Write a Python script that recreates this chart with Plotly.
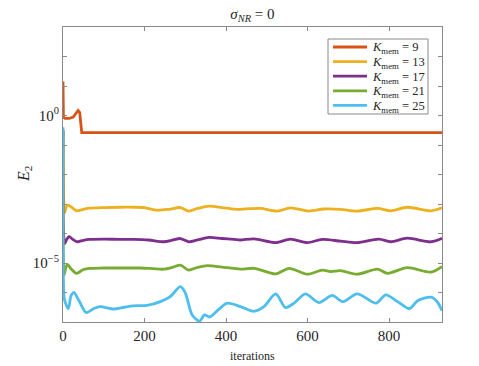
import plotly.graph_objects as go
import numpy as np

# Series data (values are log10 of E_2)
iters_k9 = [0, 1, 5, 15, 25, 32, 37, 41, 44, 46, 930]
log_e2_k9 = [1.15, -0.05, -0.1, -0.1, -0.05, 0.08, 0.17, 0.1, -0.3, -0.58, -0.58]

iters_k13 = [0, 4, 8, 13, 22, 34, 50, 66, 100, 140, 173, 200, 230, 260, 288, 308, 330, 358,
             390, 420, 435, 460, 485, 526, 558, 603, 640, 681, 722, 772, 804, 845, 903, 930]
log_e2_k13 = [-0.5, -3.3, -3.1, -3.04, -3.12, -3.23, -3.18, -3.14, -3.12, -3.11, -3.11, -3.12,
              -3.21, -3.18, -3.12, -3.24, -3.15, -3.07, -3.12, -3.17, -3.18, -3.16, -3.15, -3.24,
              -3.13, -3.24, -3.17, -3.18, -3.24, -3.15, -3.23, -3.11, -3.23, -3.13]

iters_k17 = [0, 4, 9, 15, 24, 35, 50, 66, 100, 140, 173, 210, 247, 270, 288, 308, 330, 358,
             390, 420, 435, 469, 522, 558, 599, 636, 681, 722, 775, 804, 845, 903, 930]
log_e2_k17 = [-0.5, -4.35, -4.2, -4.11, -4.2, -4.28, -4.23, -4.2, -4.19, -4.2, -4.2, -4.22,
              -4.28, -4.22, -4.17, -4.28, -4.22, -4.13, -4.17, -4.2, -4.22, -4.18, -4.31, -4.19,
              -4.31, -4.2, -4.26, -4.31, -4.19, -4.28, -4.16, -4.28, -4.16]

iters_k21 = [0, 3, 7, 11, 20, 33, 50, 66, 100, 140, 190, 220, 247, 270, 288, 308, 330, 354,
             390, 420, 435, 469, 522, 555, 599, 636, 657, 681, 722, 772, 796, 845, 903, 930]
log_e2_k21 = [-0.55, -5.4, -5.15, -5.05, -5.2, -5.35, -5.22, -5.18, -5.17, -5.17, -5.17, -5.19,
              -5.21, -5.14, -5.07, -5.24, -5.15, -5.09, -5.14, -5.18, -5.21, -5.18, -5.37, -5.18,
              -5.38, -5.24, -5.29, -5.26, -5.38, -5.21, -5.35, -5.16, -5.31, -5.12]

iters_k25 = [0, 3, 6, 13, 20, 27, 40, 57, 75, 91, 124, 150, 173, 206, 239, 263, 288, 300, 317,
             335, 347, 360, 380, 403, 436, 468, 493, 522, 546, 567, 595, 628, 661, 686, 722, 768,
             792, 821, 850, 870, 903, 919, 930]
log_e2_k25 = [-0.4, -6.2, -6.35, -6.55, -6.1, -6.0, -6.3, -6.68, -6.55, -6.48, -6.56, -6.5, -6.45,
              -6.44, -6.31, -6.14, -5.8, -6.01, -6.76, -6.97, -6.76, -6.83, -6.6, -6.36, -6.48,
              -6.64, -6.48, -6.05, -6.51, -6.36, -6.05, -6.34, -6.1, -6.31, -6.05, -6.36, -6.08,
              -6.31, -6.55, -6.28, -6.16, -6.33, -6.62]

k_mem = [9, 13, 17, 21, 25]
colors = ['#D95319', '#EDB120', '#7E2F8E', '#77AC30', '#4DBEEE']

x_ticks = [0, 200, 400, 600, 800]
y_tick_exps = [-7, -6, -5, -4, -3, -2, -1, 0, 1, 2, 3]
y_tick_text = ['', '', '10<sup>\u22125</sup>', '', '', '', '', '10<sup>0</sup>', '', '', '']

series = [
    (iters_k9, log_e2_k9),
    (iters_k13, log_e2_k13),
    (iters_k17, log_e2_k17),
    (iters_k21, log_e2_k21),
    (iters_k25, log_e2_k25),
]

font = 'Liberation Serif'
txt = '#262626'
W, H = 479, 366
L, R, T, B = 63, 37, 27, 44


# pixel -> paper helpers (for the hand-made legend box)
def px(x):
    return (x - L) / (W - L - R)


def py(y):
    return (H - B - y) / (H - T - B)


fig = go.Figure()
for (xs, ys), k, c in zip(series, k_mem, colors):
    fig.add_trace(go.Scatter(
        x=xs, y=10 ** np.array(ys), mode='lines',
        line=dict(color=c, width=2.8, shape='linear' if k == 9 else 'spline', smoothing=0.8),
        name='<i>K</i><sub>mem</sub> = %d' % k, showlegend=False,
    ))

axis_style = dict(
    showline=True, linecolor='#8a8a8a', linewidth=1, mirror='ticks',
    ticks='inside', ticklen=4, tickcolor='#8a8a8a',
    showgrid=False, zeroline=False,
    tickfont=dict(family=font, size=15, color=txt),
)

fig.update_xaxes(range=[0, 930], tickvals=x_ticks, **axis_style)
fig.update_yaxes(type='log', range=[-7, 3],
                 tickvals=[10.0 ** e for e in y_tick_exps], ticktext=y_tick_text, **axis_style)

# legend: box, sample lines and labels
shapes = [dict(type='rect', xref='paper', yref='paper', x0=px(328), x1=px(428), y0=py(114), y1=py(39),
               line=dict(color='#8a8a8a', width=1), fillcolor='white', layer='above')]
annotations = []
for i, (k, c) in enumerate(zip(k_mem, colors)):
    yy = 47 + i * 14.6
    shapes.append(dict(type='line', xref='paper', yref='paper', x0=px(333), x1=px(367),
                       y0=py(yy), y1=py(yy), line=dict(color=c, width=2.8), layer='above'))
    annotations.append(dict(text='<i>K</i><sub>mem</sub> = %d' % k, xref='paper', yref='paper',
                            x=px(370), y=py(yy + 1.5), xanchor='left', yanchor='middle', showarrow=False,
                            font=dict(family=font, size=12.5, color=txt)))

annotations += [
    dict(text='<i>E</i><sub>2</sub>', xref='paper', yref='paper', x=px(13), y=0.5,
         textangle=-90, showarrow=False, font=dict(family=font, size=16, color=txt)),
    dict(text='iterations', xref='paper', yref='paper', x=0.5, y=py(356),
         yanchor='middle', showarrow=False, font=dict(family=font, size=12, color=txt)),
]

fig.update_layout(
    width=W, height=H,
    margin=dict(l=L, r=R, t=T, b=B),
    paper_bgcolor='white', plot_bgcolor='white',
    font=dict(family=font, color=txt),
    title=dict(text='<i>\u03c3</i><sub><i>NR</i></sub> = 0', x=0.527, xanchor='center',
               y=1 - 14 / H, yanchor='middle', font=dict(family=font, size=15, color=txt)),
    showlegend=False,
    shapes=shapes,
    annotations=annotations,
)

fig.write_html("out.html", config={"displayModeBar": False},
               post_script="document.body.style.margin='0';")
